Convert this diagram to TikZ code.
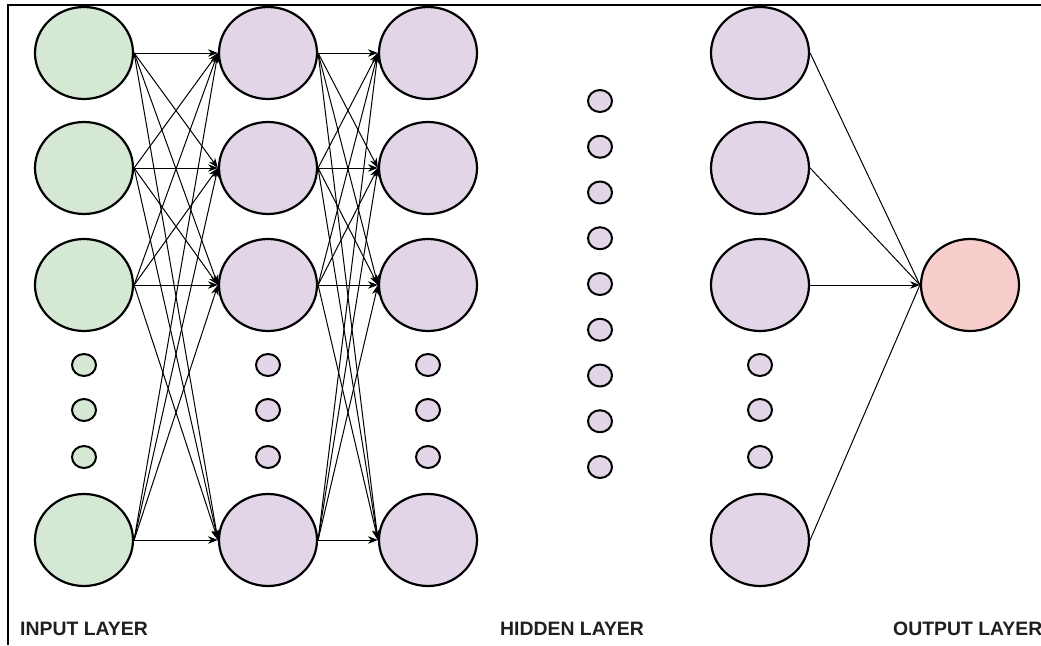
\documentclass[tikz,border=0pt]{standalone}
\usepackage{fontspec}
\setmainfont{Liberation Sans}
\usetikzlibrary{arrows.meta,shapes.geometric}
\definecolor{ingreen}{HTML}{D5E8D4}
\definecolor{hidpurple}{HTML}{E1D5E7}
\definecolor{outred}{HTML}{F8CECC}
\tikzset{
  neuron/.style={ellipse, draw=black, line width=2.2pt, minimum width=98pt, minimum height=92pt, inner sep=0pt},
  dotnode/.style={ellipse, draw=black, line width=2pt, minimum width=24pt, minimum height=22pt, inner sep=0pt},
  link/.style={draw=black, line width=1pt, -{Stealth[length=10pt,width=7.5pt]}},
  plainlink/.style={draw=black, line width=1pt},
  layerlabel/.style={anchor=base west, inner sep=0pt, font=\bfseries\fontsize{19.4pt}{21pt}\selectfont, text=black!88}
}
\begin{document}
\begin{tikzpicture}[x=1pt,y=-1pt]
  \useasboundingbox (0,0) rectangle (1041,645);
  \fill[white] (0,0) rectangle (1041,645);
  % frame (left and top edges)
  \draw[line width=2.5pt] (8,645) -- (8,5) -- (1041,5);

  % input layer
  \foreach \i/\y in {1/53,2/168,3/285,4/540}
    \node[neuron, fill=ingreen] (in\i) at (84,\y) {};
  \foreach \i/\y in {1/365,2/410,3/457}
    \node[dotnode, fill=ingreen] (ind\i) at (84,\y) {};

  % first hidden layer
  \foreach \i/\y in {1/53,2/168,3/285,4/540}
    \node[neuron, fill=hidpurple] (ha\i) at (268,\y) {};
  \foreach \i/\y in {1/365,2/410,3/457}
    \node[dotnode, fill=hidpurple] (had\i) at (268,\y) {};

  % second hidden layer
  \foreach \i/\y in {1/53,2/168,3/285,4/540}
    \node[neuron, fill=hidpurple] (hb\i) at (428,\y) {};
  \foreach \i/\y in {1/365,2/410,3/457}
    \node[dotnode, fill=hidpurple] (hbd\i) at (428,\y) {};

  % elided hidden layers
  \foreach \i in {0,...,8}
    \node[dotnode, fill=hidpurple] (mid\i) at (600,{101+45.75*\i}) {};

  % last hidden layer
  \foreach \i/\y in {1/53,2/168,3/285,4/540}
    \node[neuron, fill=hidpurple] (hc\i) at (760,\y) {};
  \foreach \i/\y in {1/365,2/410,3/457}
    \node[dotnode, fill=hidpurple] (hcd\i) at (760,\y) {};

  % output neuron
  \node[neuron, fill=outred] (out) at (970,285) {};

  % connections
  \foreach \i in {1,...,4}
    \foreach \j in {1,...,4} {
      \draw[link] (in\i.east) -- (ha\j.west);
      \draw[link] (ha\i.east) -- (hb\j.west);
    }
  \foreach \i in {1,2,4}
    \draw[plainlink] (hc\i.east) -- (out.west);
  \draw[link] (hc3.east) -- (out.west);

  % labels
  \node[layerlabel] (lin) at (20,635) {INPUT LAYER};
  \node[layerlabel] (lhid) at (500,635) {HIDDEN LAYER};
  \node[layerlabel] (lout) at (893,635) {OUTPUT LAYER};
\end{tikzpicture}
\end{document}
